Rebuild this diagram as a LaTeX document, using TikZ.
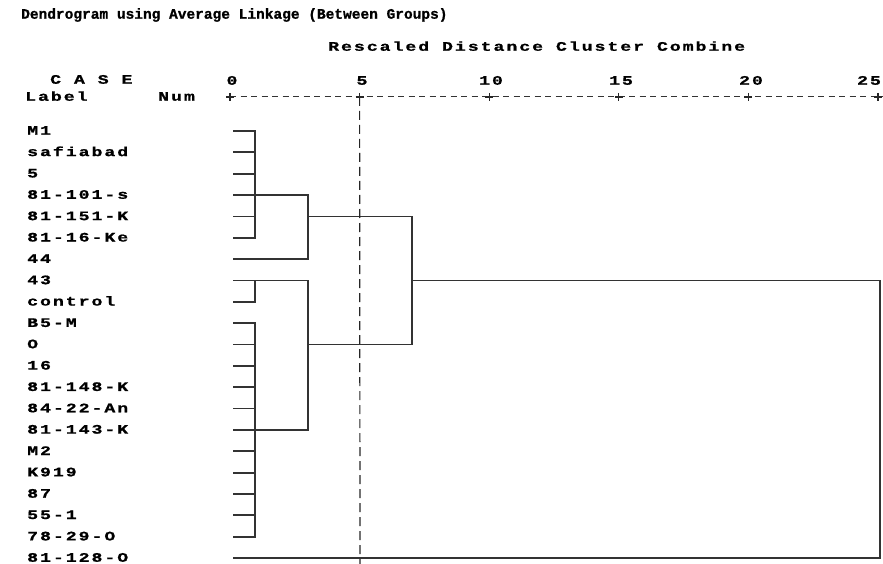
\documentclass[tikz,border=0pt]{standalone}
\usepackage{fontspec}
\newfontfamily\spssfont{Liberation Mono}[UprightFont=* Bold,FakeStretch=1.4,LetterSpace=15,FakeBold=1]
\newfontfamily\spsstitle{Liberation Mono}[UprightFont=* Bold,FakeBold=1]
\usetikzlibrary{calc}

\begin{document}
\begin{tikzpicture}[x=1pt,y=-1pt,
  lab/.style={anchor=west,inner sep=0pt,text height=7.5pt,text depth=0pt,font=\spssfont\fontsize{13}{13}\selectfont},
  tree/.style={line width=1.8pt,black!80},
  axisline/.style={line width=1pt,black!80,dash pattern=on 6pt off 4.5pt},
  cross/.style={line width=1.2pt,black!85},
  cut/.style={line width=1.2pt,black!85,dash pattern=on 9pt off 5pt}]
\useasboundingbox (0,0) rectangle (883,564);
% headings
\node[anchor=west,inner sep=0pt,font=\spsstitle\fontsize{14.5}{14.5}\selectfont] (title) at (21,15) {Dendrogram using Average Linkage (Between Groups)};
\node[lab] (rescaled) at (328,47) {Rescaled Distance Cluster Combine};
\node[lab] (case) at (50,80) {C A S E};
\node[lab] (label) at (25,97) {Label};
\node[lab] (num) at (158,97) {Num};
% axis
\coordinate (t0) at (230,97);
\coordinate (t5) at (359.6,97);
\coordinate (t10) at (489.2,97);
\coordinate (t15) at (618.8,97);
\coordinate (t20) at (748.4,97);
\coordinate (t25) at (878,97);
\coordinate (tend) at (883,97);
\node[lab,anchor=center] (v0) at (232,81) {0};
\node[lab,anchor=center] (v5) at (362,81) {5};
\node[lab,anchor=center] (v10) at (491,81) {10};
\node[lab,anchor=center] (v15) at (621,81) {15};
\node[lab,anchor=center] (v20) at (751,81) {20};
\node[lab,anchor=center] (v25) at (869,81) {25};
\draw[axisline] (t0) -- (tend);
\draw[cross] (t0) +(-4,0) -- +(4,0) (t0) +(0,-4) -- +(0,4);
\draw[cross] (t5) +(-4,0) -- +(4,0) (t5) +(0,-4) -- +(0,4);
\draw[cross] (t10) +(-4,0) -- +(4,0) (t10) +(0,-4) -- +(0,4);
\draw[cross] (t15) +(-4,0) -- +(4,0) (t15) +(0,-4) -- +(0,4);
\draw[cross] (t20) +(-4,0) -- +(4,0) (t20) +(0,-4) -- +(0,4);
\draw[cross] (t25) +(-4,0) -- +(4,0) (t25) +(0,-4) -- +(0,4);
% cases
\node[lab] (m1) at (27,131) {M1};
\node[lab] (safi) at (27,152.35) {safiabad};
\node[lab] (five) at (27,173.7) {5};
\node[lab] (s101) at (27,195.05) {81-101-s};
\node[lab] (k151) at (27,216.4) {81-151-K};
\node[lab] (ke16) at (27,237.75) {81-16-Ke};
\node[lab] (n44) at (27,259.1) {44};
\node[lab] (n43) at (27,280.45) {43};
\node[lab] (ctrl) at (27,301.8) {control};
\node[lab] (b5m) at (27,323.15) {B5-M};
\node[lab] (o) at (27,344.5) {O};
\node[lab] (n16) at (27,365.85) {16};
\node[lab] (k148) at (27,387.2) {81-148-K};
\node[lab] (an22) at (27,408.55) {84-22-An};
\node[lab] (k143) at (27,429.9) {81-143-K};
\node[lab] (m2) at (27,451.25) {M2};
\node[lab] (k919) at (27,472.6) {K919};
\node[lab] (n87) at (27,493.95) {87};
\node[lab] (n551) at (27,515.3) {55-1};
\node[lab] (o7829) at (27,536.65) {78-29-O};
\node[lab] (o81128) at (27,558) {81-128-O};
% columns
\coordinate (c0) at (233,0);
\coordinate (c1) at (255,0);
\coordinate (c2) at (308,0);
\coordinate (c3) at (412,0);
\coordinate (c4) at (880,0);
\coordinate (cend) at (360,564);
% tree
\draw[tree] (m1 -| c0) -| (ke16 -| c1) -- (ke16 -| c0);
\draw[tree] (safi -| c0) -- (safi -| c1);
\draw[tree] (five -| c0) -- (five -| c1);
\draw[tree] (k151 -| c0) -- (k151 -| c1);
\draw[tree] (s101 -| c0) -| (n44 -| c2) -- (n44 -| c0);
\draw[tree] (ctrl -| c0) -| (n43 -| c1);
\draw[tree] (n43 -| c0) -| (k143 -| c2) -- (k143 -| c0);
\draw[tree] (b5m -| c0) -| (o7829 -| c1) -- (o7829 -| c0);
\draw[tree] (o -| c0) -- (o -| c1);
\draw[tree] (n16 -| c0) -- (n16 -| c1);
\draw[tree] (k148 -| c0) -- (k148 -| c1);
\draw[tree] (an22 -| c0) -- (an22 -| c1);
\draw[tree] (m2 -| c0) -- (m2 -| c1);
\draw[tree] (k919 -| c0) -- (k919 -| c1);
\draw[tree] (n87 -| c0) -- (n87 -| c1);
\draw[tree] (n551 -| c0) -- (n551 -| c1);
\draw[tree] (k151 -| c2) -| (o -| c3) -- (o -| c2);
\draw[tree] (n43 -| c3) -| (o81128 -| c4) -- (o81128 -| c0);
% cut line
\draw[cut] (t5) -- (cend);
\end{tikzpicture}
\end{document}
